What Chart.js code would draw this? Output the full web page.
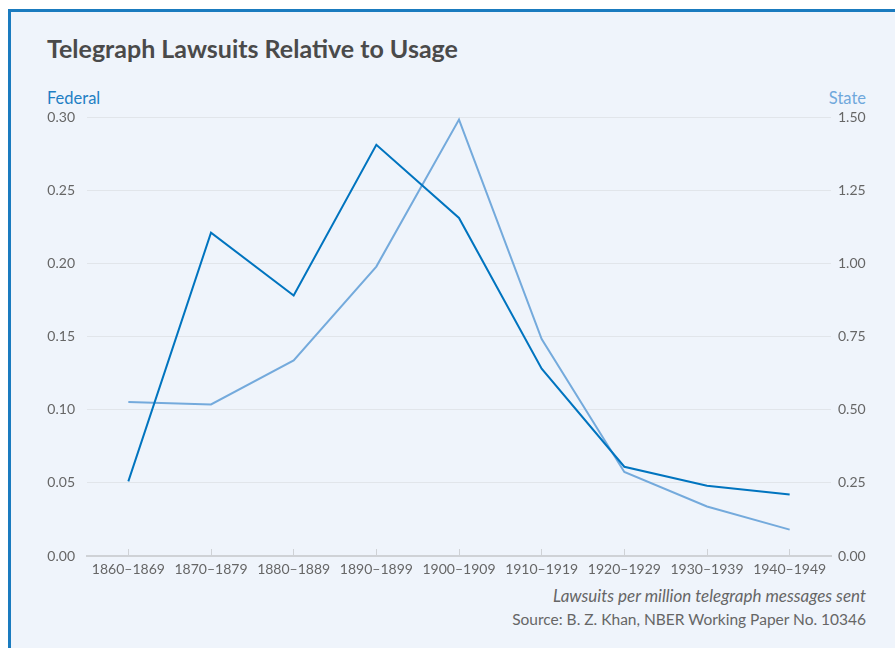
<!DOCTYPE html>
<html>
<head>
<meta charset="utf-8">
<script src="https://cdn.jsdelivr.net/npm/chart.js@4"></script>
<style>
  html, body { margin: 0; padding: 0; background: #ffffff; }
  #frame {
    position: absolute; left: 8px; top: 9px; width: 887px; height: 639px;
    background: #eff4fb; border-left: 3px solid #1a7bbf; border-top: 3px solid #1a7bbf;
    box-sizing: border-box;
  }
  .txt { position: absolute; font-family: Lato, "Open Sans", sans-serif; white-space: nowrap; }
  #title { left: 47px; top: 33px; font-size: 25px; font-weight: bold; color: #4a4a4a; }
  #fedLabel { left: 47px; top: 88px; font-size: 16.5px; color: #1f7fc4; }
  #stateLabel { right: 29px; top: 88px; font-size: 16.5px; color: #6fa8dc; }
  #note { right: 29px; top: 585px; font-size: 17px; font-style: italic; color: #666666; }
  #source { right: 29px; top: 610px; font-size: 15.5px; color: #666666; }
  #wrap { position: absolute; left: 0; top: 0; width: 895px; height: 648px; }
</style>
</head>
<body>
<div id="frame"></div>
<div class="txt" id="title">Telegraph Lawsuits Relative to Usage</div>
<div class="txt" id="fedLabel">Federal</div>
<div class="txt" id="stateLabel">State</div>
<div class="txt" id="note">Lawsuits per million telegraph messages sent</div>
<div class="txt" id="source">Source: B. Z. Khan, NBER Working Paper No. 10346</div>
<div id="wrap"><canvas id="myChart"></canvas></div>
<script>
const decades = ["1860–1869", "1870–1879", "1880–1889", "1890–1899", "1900–1909",
  "1910–1919", "1920–1929", "1930–1939", "1940–1949"];
const federal = [0.051, 0.221, 0.178, 0.281, 0.231, 0.128, 0.061, 0.048, 0.042];
const state = [0.526, 0.518, 0.668, 0.989, 1.491, 0.741, 0.287, 0.169, 0.090];

const tickFont = { family: "Lato, 'Open Sans', sans-serif", size: 14 };

const config = {
  type: "line",
  data: {
    labels: decades,
    datasets: [
      {
        label: "Federal",
        data: federal,
        borderColor: "#0074bf",
        backgroundColor: "#0074bf",
        borderWidth: 2,
        yAxisID: "y",
      },
      {
        label: "State",
        data: state,
        borderColor: "#74aadc",
        backgroundColor: "#74aadc",
        borderWidth: 2,
        yAxisID: "y2",
      },
    ],
  },
  options: {
    responsive: true,
    maintainAspectRatio: false,
    animation: false,
    elements: {
      point: { radius: 0 },
      line: { tension: 0 },
    },
    layout: {
      padding: { top: 117, left: 10, right: 10, bottom: 62 },
    },
    scales: {
      x: {
        offset: true,
        afterFit: (scale) => { scale.height = 30; },
        grid: {
          drawOnChartArea: false,
          tickLength: -7,
          color: "#cfd2d6",
          lineWidth: 1,
        },
        border: { color: "#cfd2d6", width: 2 },
        ticks: { color: "#666666", font: tickFont, padding: 12, maxRotation: 0, autoSkip: false },
      },
      y: {
        position: "left",
        min: 0,
        max: 0.3,
        afterFit: (scale) => { scale.width = 77; },
        grid: { color: "#e1e5ea", drawTicks: false },
        border: { display: false },
        ticks: {
          stepSize: 0.05,
          color: "#666666",
          font: tickFont,
          padding: 12,
          callback: (v) => v.toFixed(2),
        },
      },
      y2: {
        position: "right",
        min: 0,
        max: 1.5,
        afterFit: (scale) => { scale.width = 54; },
        grid: { drawOnChartArea: false, drawTicks: false },
        border: { display: false },
        ticks: {
          stepSize: 0.25,
          color: "#666666",
          font: tickFont,
          padding: 7,
          callback: (v) => v.toFixed(2),
        },
      },
    },
    plugins: {
      legend: { display: false },
      tooltip: { enabled: false },
    },
  },
};

const myChart = new Chart(document.getElementById("myChart"), config);
</script>
</body>
</html>
